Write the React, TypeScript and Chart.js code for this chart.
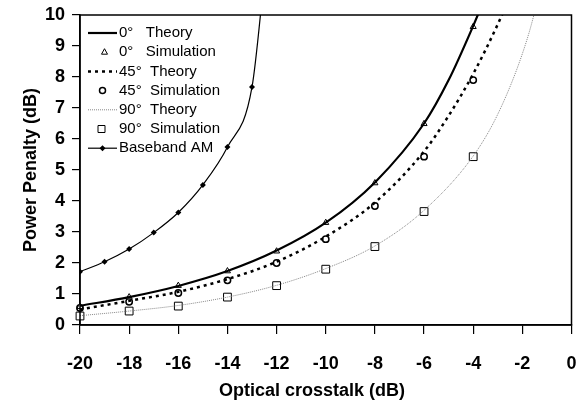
import { useEffect, useRef } from 'react';
import { Chart, registerables } from 'chart.js';

Chart.register(...registerables);

const FONT = "'Liberation Sans', Arial, Helvetica, sans-serif";

// Simulation points
const simX = [-20, -18, -16, -14, -12, -10, -8, -6, -4];
const sim0 = [0.59, 0.9, 1.27, 1.74, 2.38, 3.3, 4.58, 6.49, 9.62];
const sim45 = [0.55, 0.75, 1.03, 1.44, 2.0, 2.77, 3.84, 5.43, 7.9];
const sim90 = [0.29, 0.45, 0.61, 0.9, 1.27, 1.8, 2.53, 3.66, 5.43];

// Theory curves
const th0X = [-20, -18, -16, -14, -12, -10, -8, -6, -5, -4, -3.5];
const th0Y = [0.62, 0.9, 1.26, 1.74, 2.4, 3.3, 4.6, 6.5, 7.9, 9.65, 10.6];
const th45X = [-20, -18, -16, -14, -12, -10, -8, -6, -5, -4, -3, -2.5];
const th45Y = [0.5, 0.78, 1.07, 1.48, 2.04, 2.85, 3.95, 5.6, 6.75, 8.1, 9.7, 10.6];
const th90X = [-20, -18, -16, -14, -12, -10, -8, -6, -4, -3, -2, -1.5, -1];
const th90Y = [0.3, 0.45, 0.63, 0.9, 1.28, 1.82, 2.55, 3.7, 5.45, 6.8, 8.75, 10.1, 12];

// Baseband AM
const bbX = [-20, -19, -18, -17, -16, -15, -14, -13, -12.5];
const bbY = [1.72, 2.04, 2.45, 2.98, 3.63, 4.52, 5.74, 7.68, 11.2];

const legendLabels = [
  '0°   Theory',
  '0°   Simulation',
  '45°  Theory',
  '45°  Simulation',
  '90°  Theory',
  '90°  Simulation',
  'Baseband AM',
];

const xTitle = 'Optical crosstalk (dB)';
const yTitle = 'Power Penalty (dB)';

const pts = (xs: number[], ys: number[]) => xs.map((x, i) => ({ x, y: ys[i] }));

function drawMarker(ctx: CanvasRenderingContext2D, kind: string, x: number, y: number) {
  ctx.save();
  ctx.strokeStyle = '#000';
  ctx.fillStyle = '#fff';
  ctx.beginPath();
  if (kind === 'tri') {
    ctx.lineWidth = 1;
    ctx.moveTo(x, y - 3.5);
    ctx.lineTo(x + 3, y + 2);
    ctx.lineTo(x - 3, y + 2);
    ctx.closePath();
    ctx.fill();
    ctx.stroke();
  } else if (kind === 'circ') {
    ctx.lineWidth = 1.5;
    ctx.arc(x, y, 3, 0, Math.PI * 2);
    ctx.fill();
    ctx.stroke();
  } else if (kind === 'sq') {
    ctx.lineWidth = 1;
    ctx.rect(x - 3.5, y - 3.5, 7, 7);
    ctx.fill();
    ctx.stroke();
  } else if (kind === 'dia') {
    ctx.fillStyle = '#000';
    ctx.moveTo(x, y - 3);
    ctx.lineTo(x + 3, y);
    ctx.lineTo(x, y + 3);
    ctx.lineTo(x - 3, y);
    ctx.closePath();
    ctx.fill();
  }
  ctx.restore();
}

const legendPlugin = {
  id: 'inLegend',
  afterDraw(chart: any) {
    const { ctx, chartArea } = chart;
    const x0 = chartArea.left + 8;
    const x1 = chartArea.left + 37;
    const xm = (x0 + x1) / 2;
    const tx = chartArea.left + 39;
    ctx.save();
    ctx.font = `15px ${FONT}`;
    ctx.fillStyle = '#000';
    ctx.textBaseline = 'middle';
    ctx.textAlign = 'left';
    legendLabels.forEach((lab, i) => {
      const y = chartArea.top + 18 + i * 19.2;
      ctx.save();
      if (i === 0) {
        ctx.strokeStyle = '#000';
        ctx.lineWidth = 2.2;
        ctx.beginPath(); ctx.moveTo(x0, y); ctx.lineTo(x1, y); ctx.stroke();
      } else if (i === 2) {
        ctx.strokeStyle = '#000';
        ctx.lineWidth = 2.5;
        ctx.setLineDash([3, 4]);
        ctx.beginPath(); ctx.moveTo(x0, y); ctx.lineTo(x1, y); ctx.stroke();
      } else if (i === 4) {
        ctx.strokeStyle = '#888';
        ctx.lineWidth = 1;
        ctx.setLineDash([1, 1]);
        ctx.beginPath(); ctx.moveTo(x0, y); ctx.lineTo(x1, y); ctx.stroke();
      } else if (i === 6) {
        ctx.strokeStyle = '#000';
        ctx.lineWidth = 1.2;
        ctx.beginPath(); ctx.moveTo(x0, y); ctx.lineTo(x1, y); ctx.stroke();
        drawMarker(ctx, 'dia', xm, y);
      } else if (i === 1) {
        drawMarker(ctx, 'tri', xm + 2, y);
      } else if (i === 3) {
        drawMarker(ctx, 'circ', xm, y);
      } else if (i === 5) {
        drawMarker(ctx, 'sq', xm - 1, y);
      }
      ctx.restore();
      ctx.fillText(lab, tx, y);
    });
    ctx.restore();
  },
};

const framePlugin = {
  id: 'frame',
  afterDraw(chart: any) {
    const { ctx, chartArea } = chart;
    ctx.save();
    ctx.strokeStyle = '#000';
    ctx.lineWidth = 1.5;
    ctx.strokeRect(chartArea.left, chartArea.top, chartArea.right - chartArea.left, chartArea.bottom - chartArea.top);
    ctx.font = `bold 18px ${FONT}`;
    ctx.fillStyle = '#000';
    ctx.textAlign = 'center';
    ctx.textBaseline = 'middle';
    ctx.fillText(xTitle, chartArea.left + 232, chartArea.bottom + 66);
    ctx.restore();
  },
};

export default function App() {
  const ref = useRef<HTMLCanvasElement>(null);
  useEffect(() => {
    document.body.style.margin = '0';
    const canvas = ref.current!;
    const chart = new Chart(canvas, {
      type: 'line',
      data: {
        datasets: [
          {
            label: '0° Theory',
            data: pts(th0X, th0Y),
            borderColor: '#000',
            borderWidth: 2.2,
            pointRadius: 0,
            cubicInterpolationMode: 'monotone',
            fill: false,
          },
          {
            label: '0° Simulation',
            data: pts(simX, sim0),
            showLine: false,
            pointStyle: 'triangle',
            pointRadius: 3.5,
            borderColor: '#000',
            backgroundColor: '#fff',
            pointBorderWidth: 1,
            clip: false,
          },
          {
            label: '45° Theory',
            data: pts(th45X, th45Y),
            borderColor: '#000',
            borderWidth: 2.5,
            borderDash: [3, 4],
            pointRadius: 0,
            cubicInterpolationMode: 'monotone',
            fill: false,
          },
          {
            label: '45° Simulation',
            data: pts(simX, sim45),
            showLine: false,
            pointStyle: 'circle',
            pointRadius: 3.2,
            borderColor: '#000',
            backgroundColor: '#fff',
            pointBorderWidth: 1.5,
            clip: false,
          },
          {
            label: '90° Theory',
            data: pts(th90X, th90Y),
            borderColor: '#888',
            borderWidth: 1,
            borderDash: [1, 1],
            pointRadius: 0,
            cubicInterpolationMode: 'monotone',
            fill: false,
          },
          {
            label: '90° Simulation',
            data: pts(simX, sim90),
            showLine: false,
            pointStyle: 'rect',
            pointRadius: 5.5,
            borderColor: '#000',
            backgroundColor: '#fff',
            pointBorderWidth: 1,
            clip: false,
          },
          {
            label: 'Baseband AM',
            data: pts(bbX, bbY),
            borderColor: '#000',
            borderWidth: 1.2,
            pointStyle: 'rectRot',
            pointRadius: bbX.map((_, i) => (i === bbX.length - 1 ? 0 : 3)),
            pointBackgroundColor: '#000',
            pointBorderColor: '#000',
            pointBorderWidth: 0,
            cubicInterpolationMode: 'monotone',
            fill: false,
          },
        ] as any,
      },
      options: {
        animation: false,
        responsive: false,
        devicePixelRatio: 1,
        layout: { padding: { top: 15, right: 6, left: 0, bottom: 0 } },
        plugins: { legend: { display: false }, tooltip: { enabled: false } },
        scales: {
          x: {
            type: 'linear',
            min: -20,
            max: 0,
            ticks: { stepSize: 2, color: '#000', font: { family: FONT, size: 18, weight: 'bold' }, padding: 19, maxRotation: 0 },
            grid: { drawOnChartArea: false, drawTicks: true, tickLength: 9, color: '#000', lineWidth: 1.2 },
            border: { display: true, color: '#000', width: 1.5 },
            title: { display: false, text: xTitle },
            afterFit: (s: any) => { s.height = 89; s.paddingLeft = 0; s.paddingRight = 0; },
          },
          y: {
            type: 'linear',
            min: 0,
            max: 10,
            ticks: { stepSize: 1, color: '#000', font: { family: FONT, size: 18, weight: 'bold' }, padding: 7 },
            grid: { drawOnChartArea: false, drawTicks: true, tickLength: 8, color: '#000', lineWidth: 1.2 },
            border: { display: true, color: '#000', width: 1.5 },
            title: { display: true, text: yTitle, color: '#000', font: { family: FONT, size: 18, weight: 'bold' }, padding: { top: 20, bottom: 0 } },
            afterFit: (s: any) => { s.width = 80; s.paddingTop = 0; s.paddingBottom = 0; },
          },
        },
      } as any,
      plugins: [framePlugin, legendPlugin],
    });
    return () => chart.destroy();
  }, []);
  return <canvas ref={ref} width={578} height={414} style={{ display: 'block' }} />;
}
